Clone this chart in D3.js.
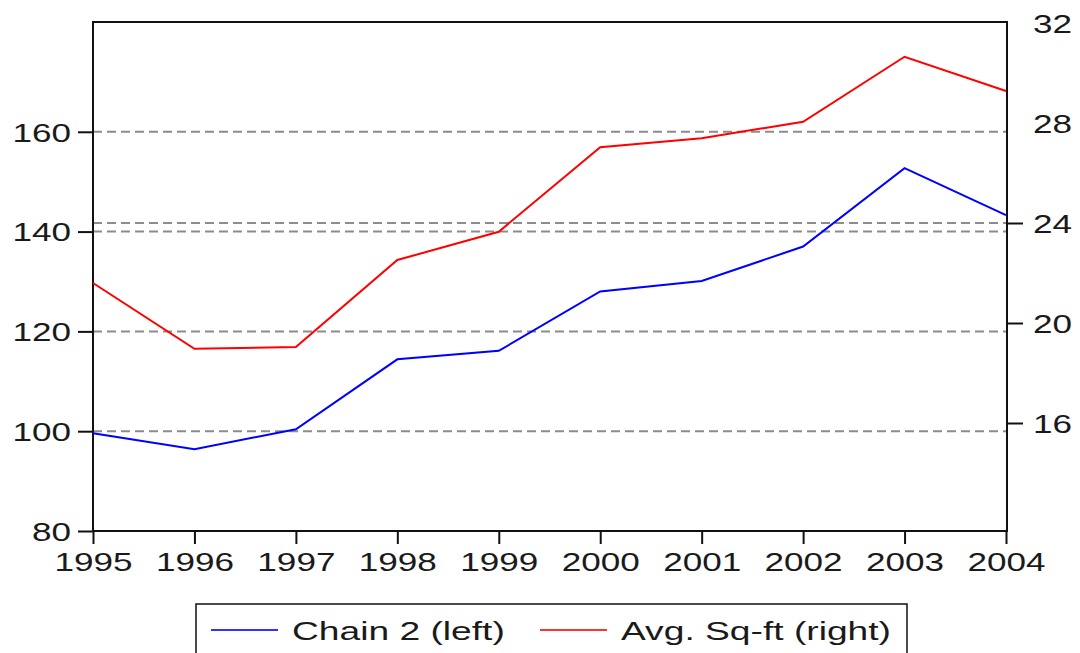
<!DOCTYPE html>
<html>
<head>
<meta charset="utf-8">
<script src="https://cdn.jsdelivr.net/npm/d3@7"></script>
<style>
  body { margin: 0; background: #fff; }
  text { font-family: "Liberation Sans", Arial, sans-serif; fill: #1a1a1a; }
</style>
</head>
<body>
<div class="container"></div>
<script>
// chart data
const years = [1995, 1996, 1997, 1998, 1999, 2000, 2001, 2002, 2003, 2004];
const chain2 = [99.6, 96.4, 100.4, 114.4, 116.1, 128.0, 130.1, 137.0, 152.7, 143.3];
const avgSqft = [21.6, 18.97, 19.04, 22.52, 23.65, 27.03, 27.39, 28.05, 30.65, 29.28];
const leftTicks = [80, 100, 120, 140, 160];
const rightTicks = [16, 20, 24, 28, 32];
const rightGrid = [24];
const legendLabels = ["Chain 2 (left)", "Avg. Sq-ft (right)"];

const width = 1080, height = 653;
const margin = { top: 22, right: 73, bottom: 122, left: 93 };
const sx = 1.35; // the reference font is stretched sideways

const svg = d3.select(".container")
  .append("svg")
  .attr("width", width)
  .attr("height", height);

const x = d3.scaleLinear().domain([1995, 2004]).range([margin.left, width - margin.right - 1]);
const yLeft = d3.scaleLinear().domain([80, 182]).range([height - margin.bottom, margin.top]);
const yRight = d3.scaleLinear().domain([11.68, 32.04]).range([height - margin.bottom, margin.top]);

// dashed grid
const grid = leftTicks.filter(d => d > 80).map(d => yLeft(d))
  .concat(rightGrid.map(d => yRight(d)));
svg.append("g").selectAll("line")
  .data(grid)
  .enter()
  .append("line")
  .attr("x1", margin.left).attr("x2", width - margin.right)
  .attr("y1", d => d).attr("y2", d => d)
  .attr("stroke", "#8c8c8c")
  .attr("stroke-width", 2)
  .attr("stroke-dasharray", "9,5");

// stretch tick labels horizontally
function stretch(g, dx) {
  g.selectAll("text")
    .attr("transform", `scale(${sx},1)`)
    .attr("x", dx / sx)
    .style("font-size", "26px");
  g.select(".domain").remove();
  g.selectAll("line").attr("stroke", "#111").attr("stroke-width", 2);
}

svg.append("g")
  .attr("transform", `translate(${margin.left},0)`)
  .call(d3.axisLeft(yLeft).tickValues(leftTicks).tickSize(15).tickPadding(7))
  .call(g => stretch(g, -22))
  .call(g => g.selectAll("text").attr("dy", "0.36em"));

svg.append("g")
  .attr("transform", `translate(${width - margin.right},0)`)
  .call(d3.axisRight(yRight).tickValues(rightTicks).tickSize(16).tickPadding(10))
  .call(g => stretch(g, 26))
  .call(g => g.selectAll(".tick line").attr("opacity", d => d > 24 ? 0 : 1))
  .call(g => g.selectAll("text").attr("dy", "0.36em"));

svg.append("g")
  .attr("transform", `translate(0,${height - margin.bottom})`)
  .call(d3.axisBottom(x).tickValues(years).tickFormat(d3.format("d")).tickSize(13).tickPadding(8))
  .call(g => stretch(g, 0))
  .call(g => g.selectAll("text").attr("dy", "0.75em"));

// frame
svg.append("rect")
  .attr("x", margin.left).attr("y", margin.top)
  .attr("width", width - margin.left - margin.right)
  .attr("height", height - margin.top - margin.bottom)
  .attr("fill", "none")
  .attr("stroke", "#111")
  .attr("stroke-width", 2);

// series lines
const blueLine = d3.line().x((d, i) => x(years[i])).y(d => yLeft(d));
const redLine = d3.line().x((d, i) => x(years[i])).y(d => yRight(d));

svg.append("path")
  .attr("d", redLine(avgSqft))
  .attr("fill", "none")
  .attr("stroke", "#ff0000")
  .attr("stroke-width", 2);

svg.append("path")
  .attr("d", blueLine(chain2))
  .attr("fill", "none")
  .attr("stroke", "#0000ff")
  .attr("stroke-width", 2);

// legend
const legend = svg.append("g");
legend.append("rect")
  .attr("x", 196).attr("y", 604)
  .attr("width", 711).attr("height", 60)
  .attr("fill", "#fff")
  .attr("stroke", "#111")
  .attr("stroke-width", 1.5);

const legendX = [211, 540];
const legendColors = ["#3333ff", "#ff3333"];
const lsx = 1.43;
legendLabels.forEach((label, i) => {
  legend.append("line")
    .attr("x1", legendX[i]).attr("x2", legendX[i] + 67)
    .attr("y1", 630).attr("y2", 630)
    .attr("stroke", legendColors[i])
    .attr("stroke-width", 2);
  legend.append("text")
    .attr("transform", `scale(${lsx},1)`)
    .attr("x", (legendX[i] + 81) / lsx)
    .attr("y", 640)
    .style("font-size", "26px")
    .text(label);
});
</script>
</body>
</html>
